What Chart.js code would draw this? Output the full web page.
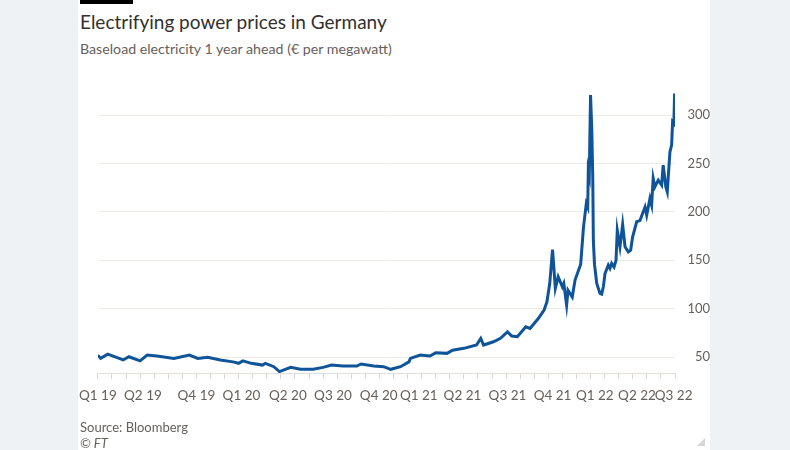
<!DOCTYPE html>
<html>
<head>
<meta charset="utf-8">
<script src="https://cdn.jsdelivr.net/npm/chart.js@4.4.0/dist/chart.umd.min.js"></script>
<style>
  html, body { margin: 0; padding: 0; }
  body { width: 790px; height: 450px; background: #eef2f5; position: relative; overflow: hidden; font-family: Lato, sans-serif; }
  #panel { position: absolute; left: 78px; top: 0; width: 632px; height: 450px; background: #fff; }
  #bar { position: absolute; left: 2px; top: 0; width: 53px; height: 4px; background: #000; }
  #title { position: absolute; left: 2px; top: 10px; font-size: 19px; color: #33302e; white-space: nowrap; }
  #sub { position: absolute; left: 2px; top: 40px; font-size: 14.2px; color: #66605c; white-space: nowrap; }
  #source { position: absolute; left: 2px; top: 419px; font-size: 13px; color: #66605c; }
  #ft { position: absolute; left: 2px; top: 435px; font-size: 13px; color: #66605c; font-style: italic; }
  #grip { position: absolute; right: 5px; bottom: 4px; width: 0; height: 0; border-left: 8px solid transparent; border-bottom: 8px solid #d6d6d6; }
  #myChart { position: absolute; left: 0; top: 0; }
</style>
</head>
<body>
<div id="panel">
  <div id="bar"></div>
  <div id="title">Electrifying power prices in Germany</div>
  <div id="sub">Baseload electricity 1 year ahead (€ per megawatt)</div>
  <canvas id="myChart" width="632" height="450"></canvas>
  <div id="source">Source: Bloomberg</div>
  <div id="ft">© FT</div>
  <div id="grip"></div>
</div>
<script>
// x = months since Jan 2019
const months = [0,0.2,0.7,1.8,2.2,3.0,3.5,4.2,5.4,6.5,
  7.1,7.8,8.7,9.6,10.0,10.3,10.9,11.7,11.9,12.5,
  12.9,13.7,14.4,15.3,16.0,16.6,17.4,18.4,18.7,19.6,
  20.3,20.8,21.5,22.1,22.2,22.9,23.6,24.0,24.8,25.2,
  26.0,26.9,27.2,27.4,28.1,28.6,29.1,29.4,29.8,30.4,
  30.7,31.3,31.7,31.9,32.1,32.3,32.5,32.7,33.0,33.1,
  33.3,33.4,33.7,33.9,34.3,34.5,34.7,34.8,34.84,34.91,
  35.0,35.09,35.16,35.2,35.28,35.44,35.67,35.79,35.91,36.03,
  36.26,36.38,36.5,36.67,36.81,36.9,37.09,37.28,37.45,37.68,
  37.85,37.99,38.28,38.51,38.87,38.99,39.22,39.34,39.45,39.57,
  39.81,40.05,40.16,40.35,40.45,40.64,40.76,40.83,40.92,40.97]
// € per MWh
const prices = [52,48.6,53,47,50.3,46,52,51,48.6,52,
  48.6,49.7,47,45,43.5,46,43.5,41.7,43.5,40,
  35,39.3,37.3,37.3,39.3,41.7,40.7,40.7,42.8,40.7,
  40,37.3,40,45,48.6,52,51,54.5,53.8,57,
  59,62.4,69.3,62.4,65.8,69.3,76,71.7,71,81.3,
  79.6,90,98.6,107,126,161,121,133,122.6,126,
  103.7,119,112,129.5,146,184.5,208.7,205,243,238,
  320.7,284.5,233,170,146,126,115.7,115,122.6,136.4,
  145,141.6,146.8,143,150,181,164,187,164,158.8,
  160.5,174.3,190,191,205,196.7,213.8,207,234.6,225.9,
  232.8,227.7,248.3,225.9,220.8,262,269,293,291.3,322.4]

const quarterLabels = ['Q1 19','Q2 19','Q4 19','Q1 20','Q2 20','Q3 20','Q4 20','Q1 21','Q2 21','Q3 21','Q4 21','Q1 22','Q2 22','Q3 22']
const quarterAt = [0,3.2,7.0,10.2,13.5,16.7,19.95,22.8,25.9,29.1,32.3,35.3,38.3,40.9]
const yTicks = [50,100,150,200,250,300]
const monthTicks = []
for (let m = 0; m <= 41; m++) monthTicks.push(m)

const grey = '#66605c'
const ctx = document.getElementById('myChart')

grafico = new Chart(ctx, {
  type: 'line',
  data: {
    datasets: [{
      data: months.map((m, i) => ({x: m, y: prices[i]})),
      borderColor: '#0f5499',
      borderWidth: 3,
      pointRadius: 0,
      tension: 0,
      xAxisID: 'x',
      yAxisID: 'y'
    }]
  },
  options: {
    responsive: false,
    animation: false,
    layout: { padding: { left: 19, top: 90, right: 0, bottom: 45 } },
    plugins: { legend: { display: false }, tooltip: { enabled: false } },
    scales: {
      x: {
        type: 'linear', position: 'bottom', min: 0, max: 41,
        afterBuildTicks: s => { s.ticks = monthTicks.map(v => ({value: v})) },
        afterFit: s => { s.height = 6 },
        ticks: { display: false },
        grid: { drawOnChartArea: false, drawTicks: true, tickLength: 6, color: '#d9d5d1' },
        border: { display: true, color: '#e2deda' }
      },
      xq: {
        type: 'linear', position: 'bottom', min: 0, max: 41,
        afterBuildTicks: s => { s.ticks = quarterAt.map(v => ({value: v})) },
        afterFit: s => { s.height = 26 },
        ticks: {
          autoSkip: false, maxRotation: 0, padding: 1, color: grey,
          font: { family: 'Lato', size: 13.5 },
          callback: (v, i) => quarterLabels[i]
        },
        grid: { display: false },
        border: { display: false }
      },
      y: {
        type: 'linear', position: 'right', min: 33.5, max: 326,
        afterBuildTicks: s => { s.ticks = yTicks.map(v => ({value: v})) },
        afterFit: s => { s.width = 35 },
        ticks: { crossAlign: 'far', padding: 8, color: grey, font: { family: 'Lato', size: 13 } },
        grid: { drawTicks: false, color: '#efebe7' },
        border: { display: false }
      }
    }
  }
});
</script>
</body>
</html>
